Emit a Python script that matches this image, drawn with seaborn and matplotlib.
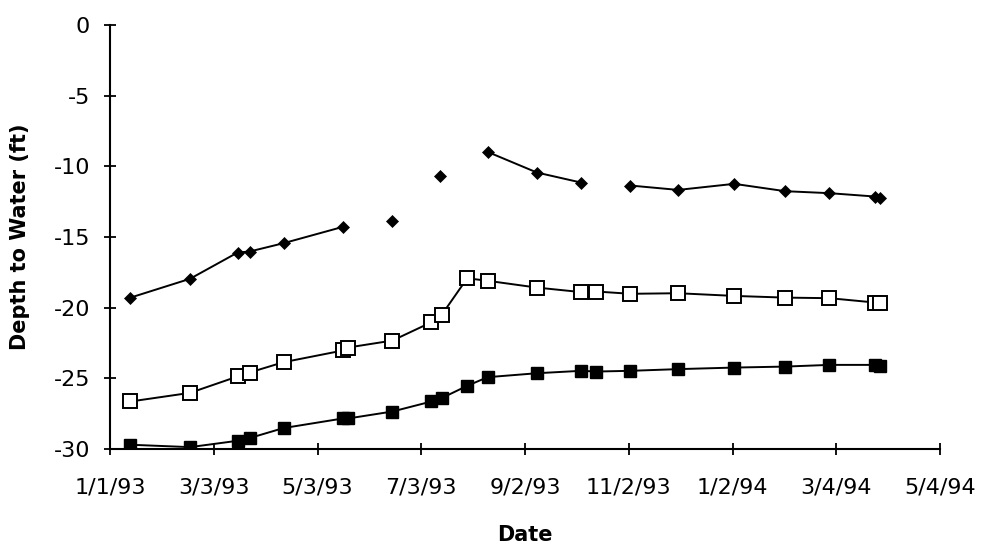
import matplotlib
matplotlib.use("Agg")
import matplotlib.pyplot as plt
import seaborn as sns
import pandas as pd

# ---- data ----
sq_dates = ["1993-01-13", "1993-02-17", "1993-03-17", "1993-03-24", "1993-04-13",
            "1993-05-18", "1993-05-21", "1993-06-16", "1993-07-09", "1993-07-15",
            "1993-07-30", "1993-08-11", "1993-09-09", "1993-10-05", "1993-10-14",
            "1993-11-03", "1993-12-01", "1994-01-03", "1994-02-02", "1994-02-28",
            "1994-03-27", "1994-03-30"]
open_sq = [-26.64, -26.03, -24.87, -24.59, -23.86, -23.03, -22.82, -22.33, -21.03, -20.51,
           -17.92, -18.10, -18.58, -18.90, -18.86, -19.02, -18.98, -19.17, -19.29, -19.33,
           -19.64, -19.64]
filled_sq = [-29.70, -29.87, -29.42, -29.23, -28.52, -27.84, -27.84, -27.35, -26.64, -26.40,
             -25.53, -24.92, -24.64, -24.47, -24.52, -24.47, -24.35, -24.24, -24.17, -24.05,
             -24.05, -24.10]

dia_dates = ["1993-01-13", "1993-02-17", "1993-03-17", "1993-03-24", "1993-04-13",
             "1993-05-18", "1993-06-16", "1993-07-14", "1993-08-11", "1993-09-09",
             "1993-10-05", "1993-11-03", "1993-12-01", "1994-01-03", "1994-02-02",
             "1994-02-28", "1994-03-27", "1994-03-30"]
diamond = [-19.29, -17.96, -16.10, -16.03, -15.44, -14.28, -13.90, -10.66, -8.98, -10.44,
           -11.15, -11.36, -11.67, -11.24, -11.76, -11.90, -12.14, -12.21]
dia_segment = [0, 0, 0, 0, 0, 0, 1, 2, 3, 3, 3, 4, 4, 4, 4, 4, 4, 4]

tick_dates = ["1993-01-01", "1993-03-03", "1993-05-03", "1993-07-03", "1993-09-02",
              "1993-11-02", "1994-01-02", "1994-03-04", "1994-05-04"]
tick_labels = ["1/1/93", "3/3/93", "5/3/93", "7/3/93", "9/2/93",
               "11/2/93", "1/2/94", "3/4/94", "5/4/94"]
y_ticks = [0, -5, -10, -15, -20, -25, -30]

# ---- frames ----
df_sq = pd.DataFrame({"date": pd.to_datetime(sq_dates), "open": open_sq, "filled": filled_sq})
df_dia = pd.DataFrame({"date": pd.to_datetime(dia_dates), "depth": diamond, "seg": dia_segment})

sns.set_theme(style="ticks")
plt.rcParams["font.family"] = ["DejaVu Sans"]

fig = plt.figure(figsize=(9.87, 5.48), dpi=100)
ax = fig.add_axes([0.1115, 0.1807, 0.8409, 0.7737])

lw = 1.4
sns.lineplot(data=df_sq, x="date", y="filled", ax=ax, color="black", linewidth=lw,
             marker="s", markersize=8, markerfacecolor="black", markeredgecolor="black",
             markeredgewidth=1)
sns.lineplot(data=df_sq, x="date", y="open", ax=ax, color="black", linewidth=lw,
             marker="s", markersize=10, markerfacecolor="white", markeredgecolor="black",
             markeredgewidth=1.4)
sns.lineplot(data=df_dia, x="date", y="depth", units="seg", estimator=None, ax=ax,
             color="black", linewidth=lw, marker="D", markersize=6,
             markerfacecolor="black", markeredgecolor="black", markeredgewidth=0.5)

ax.set_xlim(pd.Timestamp(tick_dates[0]), pd.Timestamp(tick_dates[-1]))
ax.set_ylim(-30, 0)
ax.set_xticks(pd.to_datetime(tick_dates))
ax.set_xticklabels(tick_labels)
ax.set_yticks(y_ticks)
ax.set_yticklabels([str(v) for v in y_ticks])

for s in ["top", "right"]:
    ax.spines[s].set_visible(False)
for s in ["left", "bottom"]:
    ax.spines[s].set_color("black")
    ax.spines[s].set_linewidth(1.5)

ax.tick_params(axis="both", direction="inout", length=9, width=1.3, color="black",
               labelsize=16, labelcolor="black", bottom=True, left=True)
ax.tick_params(axis="x", pad=16)
ax.tick_params(axis="y", pad=10)

ax.set_xlabel("Date", fontsize=15, fontweight="bold", color="black", labelpad=20)
ax.set_ylabel("Depth to Water (ft)", fontsize=15, fontweight="bold", color="black", labelpad=17)
ax.grid(False)

fig.savefig("out.png", dpi=100, facecolor="white")
